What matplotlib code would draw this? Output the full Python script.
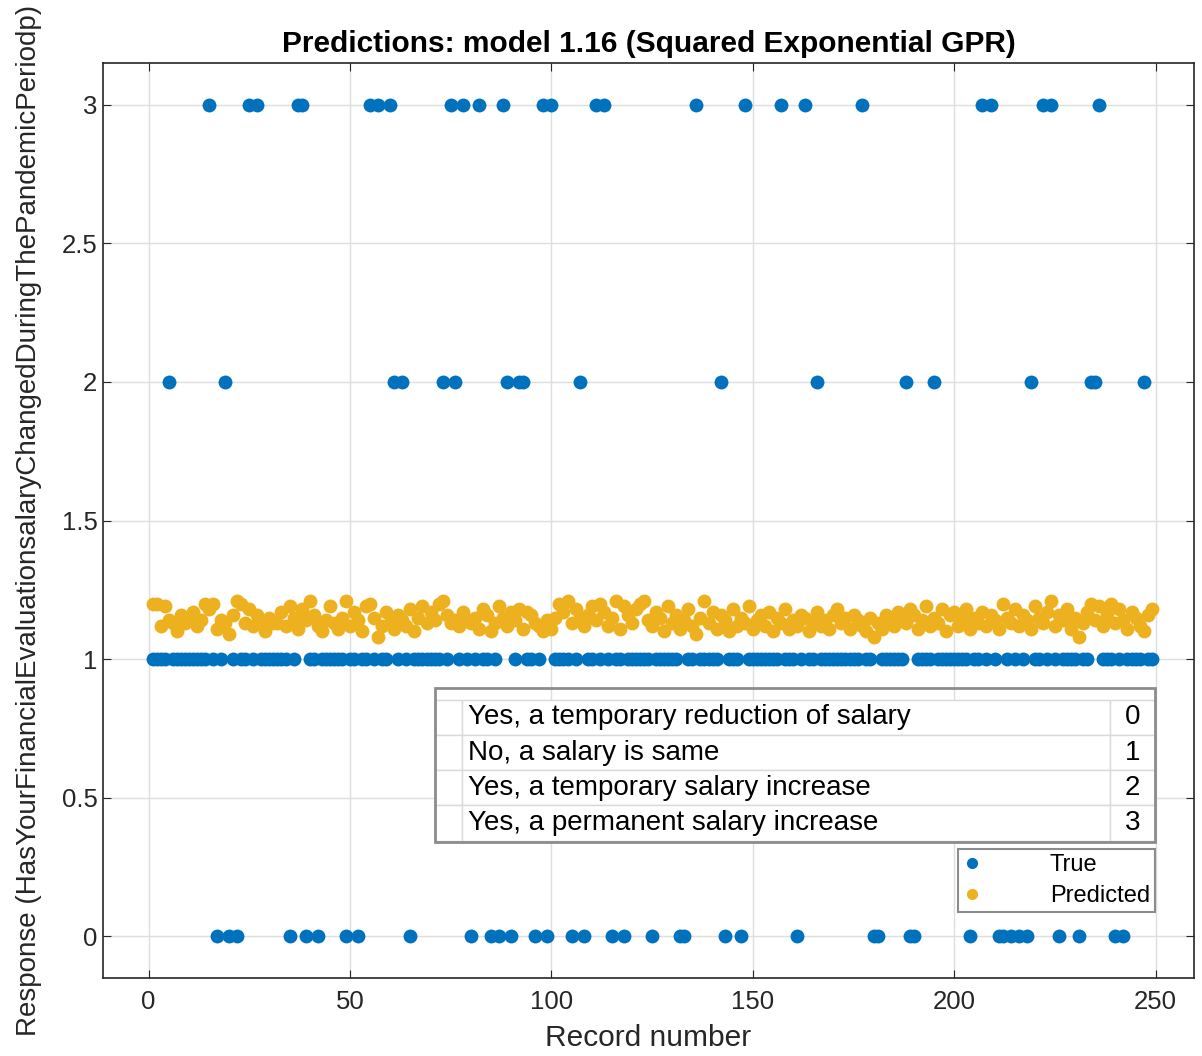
import matplotlib
matplotlib.use('Agg')
import matplotlib.pyplot as plt
import numpy as np
from matplotlib.lines import Line2D
from matplotlib.patches import Rectangle

plt.rcParams['font.family'] = ['Liberation Sans', 'DejaVu Sans']

# Data: record numbers 1..249, true response class, predicted response
n_records = 249
records = np.arange(1, n_records + 1)

# records whose true response is not "1"
class0_records = [17, 20, 22, 35, 39, 42, 49, 52, 65, 80, 85, 87, 90, 96, 99,
                  105, 108, 115, 118, 125, 132, 133, 143, 147, 161, 180, 181,
                  189, 190, 204, 211, 212, 214, 216, 218, 226, 231, 240, 242]
class2_records = [5, 19, 61, 63, 73, 76, 89, 92, 93, 107, 142, 166, 188, 195,
                  219, 234, 235, 247]
class3_records = [15, 25, 27, 37, 38, 55, 57, 60, 75, 78, 82, 88, 98, 100,
                  111, 113, 136, 148, 157, 163, 177, 207, 209, 222, 224, 236]

predicted = [
    1.20, 1.20, 1.12, 1.19, 1.14, 1.13, 1.10, 1.16, 1.13, 1.15,
    1.17, 1.12, 1.14, 1.20, 1.18, 1.20, 1.11, 1.14, 1.13, 1.09,
    1.16, 1.21, 1.20, 1.13, 1.18, 1.12, 1.16, 1.14, 1.10, 1.15,
    1.13, 1.13, 1.17, 1.12, 1.19, 1.15, 1.11, 1.18, 1.14, 1.21,
    1.16, 1.12, 1.10, 1.14, 1.19, 1.13, 1.11, 1.15, 1.21, 1.12,
    1.17, 1.14, 1.10, 1.19, 1.20, 1.15, 1.08, 1.12, 1.17, 1.13,
    1.11, 1.16, 1.14, 1.12, 1.18, 1.10, 1.15, 1.19, 1.13, 1.17,
    1.14, 1.20, 1.21, 1.16, 1.13, 1.14, 1.12, 1.17, 1.14, 1.13,
    1.15, 1.11, 1.18, 1.16, 1.10, 1.13, 1.19, 1.15, 1.12, 1.17,
    1.14, 1.18, 1.11, 1.17, 1.16, 1.13, 1.12, 1.10, 1.14, 1.11,
    1.15, 1.20, 1.17, 1.21, 1.13, 1.18, 1.15, 1.12, 1.16, 1.19,
    1.14, 1.20, 1.17, 1.12, 1.15, 1.21, 1.11, 1.19, 1.16, 1.13,
    1.18, 1.20, 1.21, 1.14, 1.12, 1.17, 1.15, 1.10, 1.19, 1.13,
    1.16, 1.11, 1.14, 1.18, 1.12, 1.09, 1.15, 1.21, 1.13, 1.17,
    1.11, 1.16, 1.14, 1.10, 1.18, 1.12, 1.15, 1.13, 1.19, 1.11,
    1.14, 1.16, 1.12, 1.17, 1.10, 1.15, 1.13, 1.18, 1.11, 1.14,
    1.12, 1.16, 1.15, 1.10, 1.13, 1.17, 1.12, 1.14, 1.11, 1.16,
    1.18, 1.13, 1.15, 1.11, 1.16, 1.14, 1.12, 1.10, 1.15, 1.08,
    1.13, 1.11, 1.16, 1.14, 1.12, 1.17, 1.15, 1.13, 1.18, 1.16,
    1.11, 1.14, 1.19, 1.12, 1.15, 1.13, 1.18, 1.10, 1.16, 1.17,
    1.12, 1.14, 1.18, 1.11, 1.15, 1.13, 1.17, 1.12, 1.16, 1.14,
    1.11, 1.20, 1.15, 1.13, 1.18, 1.12, 1.16, 1.14, 1.11, 1.19,
    1.15, 1.13, 1.17, 1.21, 1.12, 1.16, 1.14, 1.18, 1.11, 1.15,
    1.08, 1.13, 1.17, 1.20, 1.14, 1.19, 1.12, 1.16, 1.20, 1.13,
    1.18, 1.14, 1.11, 1.17, 1.15, 1.12, 1.10, 1.16, 1.18,
]

class_labels = ['Yes, a temporary reduction of salary',
                'No, a salary is same',
                'Yes, a temporary salary increase',
                'Yes, a permanent salary increase']
class_codes = ['0', '1', '2', '3']

# build the true response vector
true_resp = np.ones(n_records)
true_resp[np.array(class0_records) - 1] = 0
true_resp[np.array(class2_records) - 1] = 2
true_resp[np.array(class3_records) - 1] = 3

BLUE = '#0072BD'
ORANGE = '#EDB120'
DARK = '#262626'

fig = plt.figure(figsize=(12.02, 10.56), dpi=100)
ax = fig.add_axes([0.0857, 0.0739, 0.9076, 0.8664])

ax.plot(records, true_resp, 'o', color=BLUE, markersize=10,
        markeredgewidth=0, label='True')
ax.plot(records, predicted, 'o', color=ORANGE, markersize=10,
        markeredgewidth=0, label='Predicted')

ax.set_xlim(-11.3, 259.5)
ax.set_ylim(-0.15, 3.15)
ax.set_xticks(np.arange(0, 251, 50))
ax.set_yticks(np.arange(0, 3.01, 0.5))
ax.set_yticklabels(['0', '0.5', '1', '1.5', '2', '2.5', '3'])
ax.grid(True, color='#dedede', linewidth=1)
ax.set_axisbelow(True)
ax.tick_params(direction='in', top=True, right=True, length=6,
               labelsize=18.5, colors=DARK)
ax.tick_params(axis='x', pad=9)
ax.tick_params(axis='y', pad=4)
for sp in ax.spines.values():
    sp.set_color(DARK)
    sp.set_linewidth(1.2)

ax.set_title('Predictions: model 1.16 (Squared Exponential GPR)',
             fontsize=21.5, fontweight='bold', pad=8)
ax.set_xlabel('Record number', fontsize=21.5, color=DARK, labelpad=7)
ax.set_ylabel('Response (HasYourFinancialEvaluationsalaryChangedDuring'
              'ThePandemicPeriodp)', fontsize=20, color=DARK, labelpad=14)

# class code table
rows = [['', lab, code] for lab, code in zip(class_labels, class_codes)]
tbl = ax.table(cellText=rows, colWidths=[27, 648, 45],
               bbox=[0.304, 0.150, 0.66, 0.154], cellLoc='left',
               zorder=5)
tbl.auto_set_font_size(False)
tbl.set_fontsize(20)
for (r, c), cell in tbl.get_celld().items():
    cell.set_edgecolor('#d9d9d9')
    cell.set_linewidth(1)
    cell.set_facecolor('white')
    cell.get_text().set_color('black')
    cell.PAD = 0.01
    if c == 2:
        cell.get_text().set_horizontalalignment('center')
        cell.PAD = 0.5
ax.add_patch(Rectangle((0.304, 0.1486), 0.66, 0.168, transform=ax.transAxes,
                       fill=False, edgecolor='#8c8c8c', linewidth=2,
                       zorder=6))

handles = [Line2D([], [], marker='o', linestyle='', color=BLUE,
                  markersize=7, label='True'),
           Line2D([], [], marker='o', linestyle='', color=ORANGE,
                  markersize=7, label='Predicted')]
leg = ax.legend(handles=handles, loc='lower right',
                bbox_to_anchor=(0.964, 0.072), fontsize=17,
                fancybox=False, framealpha=1, edgecolor='#8c8c8c',
                borderpad=0.2, handletextpad=2.9, labelspacing=0.4,
                handlelength=0.8, borderaxespad=0)
leg.get_frame().set_linewidth(1.5)

fig.savefig('out.png', dpi=100)
